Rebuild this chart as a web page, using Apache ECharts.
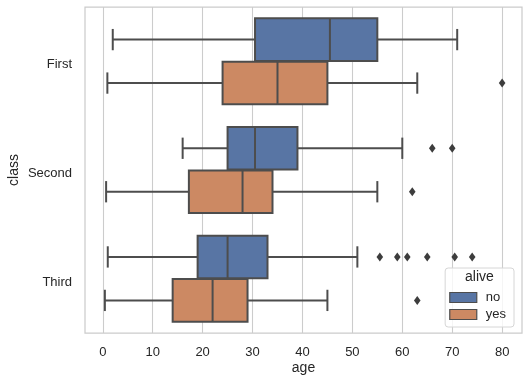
<!DOCTYPE html>
<html>
<head>
<meta charset="utf-8">
<script src="https://cdn.jsdelivr.net/npm/echarts@6/dist/echarts.min.js"></script>
<style>html,body{margin:0;padding:0;background:#fff}#c{width:530px;height:385px}</style>
</head>
<body>
<div id="c"></div>
<script>
// ---- data ----
const categories = ['First', 'Second', 'Third'];
const hues = ['no', 'yes'];
// [low whisker, Q1, median, Q3, high whisker]
const noStats = [[2, 30.5, 45.5, 55, 71], [16, 25, 30.5, 39, 60], [1, 19, 25, 33, 51]];
const yesStats = [[0.92, 24, 35, 45, 63], [0.67, 17.25, 28, 34, 55], [0.42, 14, 22, 29, 45]];
const noFliers = [[], [66, 70], [55.5, 59, 61, 65, 70.5, 74]];
const yesFliers = [[80], [62], [63]];
const xTicks = [0, 10, 20, 30, 40, 50, 60, 70, 80];

const hueColors = ['#5875a4', '#cc8963'];
const lineColor = '#4d4d4d';
const textColor = '#262626';
const font = 'Liberation Sans, Arial, sans-serif';

function boxData(stats) {
  return stats.map((s, i) => [i].concat(s));
}
function flierData(fl) {
  const out = [];
  fl.forEach((arr, i) => arr.forEach(v => out.push([i, v])));
  return out;
}

function boxRender(h) {
  return function (params, api) {
    const cat = api.value(0);
    const band = api.size([0, 1])[1];
    const off = (h - 0.5) * 0.4 * band;
    const half = 0.4 * 0.98 * band / 2;
    const cy = api.coord([0, cat])[1] + off;
    const px = v => api.coord([v, cat])[0];
    const lo = px(api.value(1)), q1 = px(api.value(2)), med = px(api.value(3)),
          q3 = px(api.value(4)), hi = px(api.value(5));
    const ls = { stroke: lineColor, lineWidth: 2 };
    const capH = half / 2;
    return {
      type: 'group',
      children: [
        { type: 'line', shape: { x1: lo, y1: cy, x2: q1, y2: cy }, style: ls },
        { type: 'line', shape: { x1: q3, y1: cy, x2: hi, y2: cy }, style: ls },
        { type: 'line', shape: { x1: lo, y1: cy - capH, x2: lo, y2: cy + capH }, style: ls },
        { type: 'line', shape: { x1: hi, y1: cy - capH, x2: hi, y2: cy + capH }, style: ls },
        { type: 'rect', shape: { x: q1, y: cy - half, width: q3 - q1, height: 2 * half },
          style: { fill: hueColors[h], stroke: lineColor, lineWidth: 2 } },
        { type: 'line', shape: { x1: med, y1: cy - half, x2: med, y2: cy + half }, style: ls }
      ]
    };
  };
}

function flierRender(h) {
  return function (params, api) {
    const cat = api.value(0);
    const band = api.size([0, 1])[1];
    const off = (h - 0.5) * 0.4 * band;
    const p = api.coord([api.value(1), cat]);
    const x = p[0], y = p[1] + off;
    return {
      type: 'polygon',
      shape: { points: [[x, y - 4.5], [x + 3.3, y], [x, y + 4.5], [x - 3.3, y]] },
      style: { fill: '#3d3d3d' }
    };
  };
}

const chart = echarts.init(document.getElementById('c'));
chart.setOption({
  animation: false,
  backgroundColor: '#fff',
  grid: { left: 85, right: 8, top: 7, bottom: 52, containLabel: false, outerBoundsMode: 'none',
          show: true, borderColor: '#cccccc', borderWidth: 1.25, backgroundColor: 'transparent' },
  xAxis: {
    type: 'value', min: -3.56, max: 83.98,
    name: 'age', nameLocation: 'middle', nameGap: 28, nameMoveOverlap: false,
    nameTextStyle: { color: textColor, fontSize: 14, fontFamily: font },
    axisLine: { show: false },
    axisTick: { show: false, customValues: xTicks },
    axisLabel: { customValues: xTicks, color: textColor, fontSize: 13, fontFamily: font, margin: 13 },
    splitLine: { show: true, lineStyle: { color: '#cccccc', width: 1.1 } }
  },
  yAxis: {
    type: 'category', data: categories, inverse: true,
    name: 'class', nameLocation: 'middle', nameGap: 64, nameRotate: 90, nameMoveOverlap: false,
    nameTextStyle: { color: textColor, fontSize: 14, fontFamily: font },
    axisLine: { show: false },
    axisTick: { show: false },
    axisLabel: {
      color: textColor, fontSize: 13, fontFamily: font, margin: 13,
      formatter: '{a|{value}}',
      rich: { a: { color: textColor, fontSize: 13, fontFamily: font, padding: [7, 0, 0, 0] } }
    },
    splitLine: { show: false }
  },
  legend: {
    orient: 'vertical', right: 16, bottom: 58,
    data: hues, icon: 'rect', itemWidth: 27, itemHeight: 10, itemGap: 4,
    padding: [23, 8, 6, 4],
    backgroundColor: 'rgba(255,255,255,0.8)', borderColor: '#d6d6d6', borderWidth: 1, borderRadius: 3,
    textStyle: { color: textColor, fontSize: 13, fontFamily: font, padding: [0, 0, 0, 4] },
    itemStyle: { borderColor: lineColor, borderWidth: 1.2 }
  },
  graphic: [{
    type: 'text', left: 465, top: 270, z: 100,
    style: { text: 'alive', fill: textColor, fontSize: 14, fontFamily: font }
  }],
  series: [
    { name: 'no', type: 'custom', renderItem: boxRender(0), data: boxData(noStats),
      encode: { x: [1, 2, 3, 4, 5], y: 0 }, itemStyle: { color: hueColors[0], borderColor: lineColor } },
    { name: 'yes', type: 'custom', renderItem: boxRender(1), data: boxData(yesStats),
      encode: { x: [1, 2, 3, 4, 5], y: 0 }, itemStyle: { color: hueColors[1], borderColor: lineColor } },
    { name: 'noFliers', type: 'custom', renderItem: flierRender(0), data: flierData(noFliers),
      encode: { x: 1, y: 0 } },
    { name: 'yesFliers', type: 'custom', renderItem: flierRender(1), data: flierData(yesFliers),
      encode: { x: 1, y: 0 } }
  ]
});
</script>
</body>
</html>
